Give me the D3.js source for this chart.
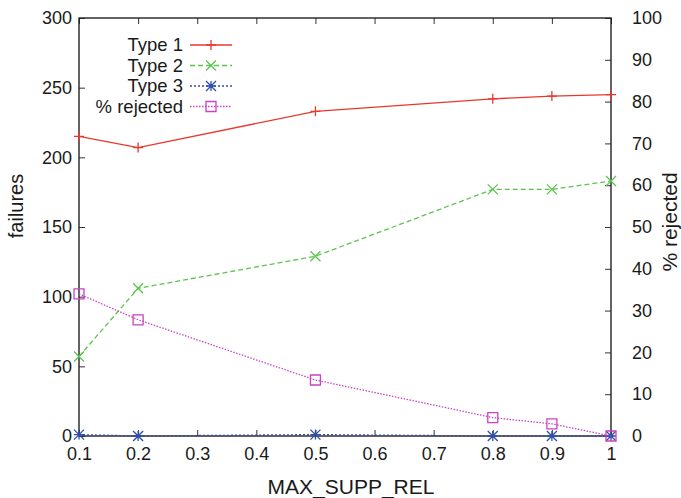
<!DOCTYPE html>
<html><head><meta charset="utf-8">
<script src="https://cdn.jsdelivr.net/npm/d3@7"></script>
<style>
body{margin:0;background:#fff;}
text{font-family:"Liberation Sans",Arial,Helvetica,sans-serif;fill:#1a1a1a;}
</style></head>
<body><svg id="c" width="681" height="498"></svg>
<script>
const xValues = [0.1, 0.2, 0.5, 0.8, 0.9, 1.0];
const type1 = [215, 207, 233, 242, 244, 245];
const type2 = [57, 106, 129, 177, 177, 183];
const type3 = [1, 0, 1, 0, 0, 0];
const rejected = [34, 27.8, 13.4, 4.4, 2.9, 0];
const xTicks = [0.1,0.2,0.3,0.4,0.5,0.6,0.7,0.8,0.9,1];
const yTicks = [0,50,100,150,200,250,300];
const y2Ticks = [0,10,20,30,40,50,60,70,80,90,100];

const svg = d3.select("#c");
const L=79, R=611, T=18, B=436;
const x = d3.scaleLinear().domain([0.1,1]).range([L,R]);
const y = d3.scaleLinear().domain([0,300]).range([B,T]);
const y2 = d3.scaleLinear().domain([0,100]).range([B,T]);

const tl = 6;
const gx = svg.append("g").attr("transform",`translate(0,${B})`)
  .call(d3.axisBottom(x).tickValues(xTicks).tickFormat(d=>d===1?"1":d3.format(".1f")(d)).tickSizeInner(-tl).tickSizeOuter(0).tickPadding(15));
const gxt = svg.append("g").attr("transform",`translate(0,${T})`)
  .call(d3.axisTop(x).tickValues(xTicks).tickFormat("").tickSizeInner(-tl).tickSizeOuter(0));
const gy = svg.append("g").attr("transform",`translate(${L},0)`)
  .call(d3.axisLeft(y).tickValues(yTicks).tickSizeInner(-tl).tickSizeOuter(0).tickPadding(7));
const gy2 = svg.append("g").attr("transform",`translate(${R},0)`)
  .call(d3.axisRight(y2).tickValues(y2Ticks).tickSizeInner(-tl).tickSizeOuter(0).tickPadding(21));
[gx,gxt,gy,gy2].forEach(g=>{
  g.select(".domain").remove();
  g.selectAll("line").attr("stroke","#333").attr("stroke-width",1);
  g.selectAll("text").style("font-size","18px").attr("fill","#1a1a1a");
});
gx.selectAll("text").attr("dy","0.5em");
svg.append("rect").attr("x",L).attr("y",T).attr("width",R-L).attr("height",B-T)
  .attr("fill","none").attr("stroke","#222").attr("stroke-width",1.4);

svg.append("text").attr("transform",`translate(23,206) rotate(-90)`).attr("text-anchor","middle")
  .style("font-size","20px").text("failures");
svg.append("text").attr("transform",`translate(677,222) rotate(-90)`).attr("text-anchor","middle")
  .style("font-size","21px").text("% rejected");
svg.append("text").attr("x",351).attr("y",494).attr("text-anchor","middle")
  .style("font-size","21px").text("MAX_SUPP_REL");

const series = [
  {name:"Type 1", vals:type1, sc:y, color:"#e8382e", dash:null, mk:"plus"},
  {name:"Type 2", vals:type2, sc:y, color:"#5cc44e", dash:"5,3", mk:"cross"},
  {name:"Type 3", vals:type3, sc:y, color:"#2f4ea8", dash:"2,2", mk:"star"},
  {name:"% rejected", vals:rejected, sc:y2, color:"#c844c0", dash:"1.5,1.5", mk:"square"}
];
const s=5;
function marker(g,type,cx,cy,color){
  const p = d3.path();
  if(type==="plus"||type==="star"){p.moveTo(cx-s,cy);p.lineTo(cx+s,cy);p.moveTo(cx,cy-s);p.lineTo(cx,cy+s);}
  if(type==="cross"||type==="star"){p.moveTo(cx-s,cy-s);p.lineTo(cx+s,cy+s);p.moveTo(cx-s,cy+s);p.lineTo(cx+s,cy-s);}
  if(type==="square"){p.rect(cx-s,cy-s,2*s,2*s);}
  g.append("path").attr("d",p.toString()).attr("fill","none").attr("stroke",color).attr("stroke-width",1.3);
}
const plot = svg.append("g");
series.forEach(se=>{
  const line = d3.line().x((d,i)=>x(xValues[i])).y(d=>se.sc(d));
  plot.append("path").datum(se.vals).attr("d",line).attr("fill","none")
    .attr("stroke",se.color).attr("stroke-width",1.3).attr("stroke-dasharray",se.dash);
  se.vals.forEach((v,i)=>marker(plot,se.mk,x(xValues[i]),se.sc(v),se.color));
});
const lg = svg.append("g");
series.forEach((se,i)=>{
  const yy = 45 + i*20.5;
  lg.append("text").attr("x",183).attr("y",yy).attr("dy","0.35em").attr("text-anchor","end")
    .style("font-size","18.5px").text(se.name);
  lg.append("line").attr("x1",190).attr("x2",232).attr("y1",yy).attr("y2",yy)
    .attr("stroke",se.color).attr("stroke-width",1.3).attr("stroke-dasharray",se.dash);
  marker(lg,se.mk,211,yy,se.color);
});
</script></body></html>
